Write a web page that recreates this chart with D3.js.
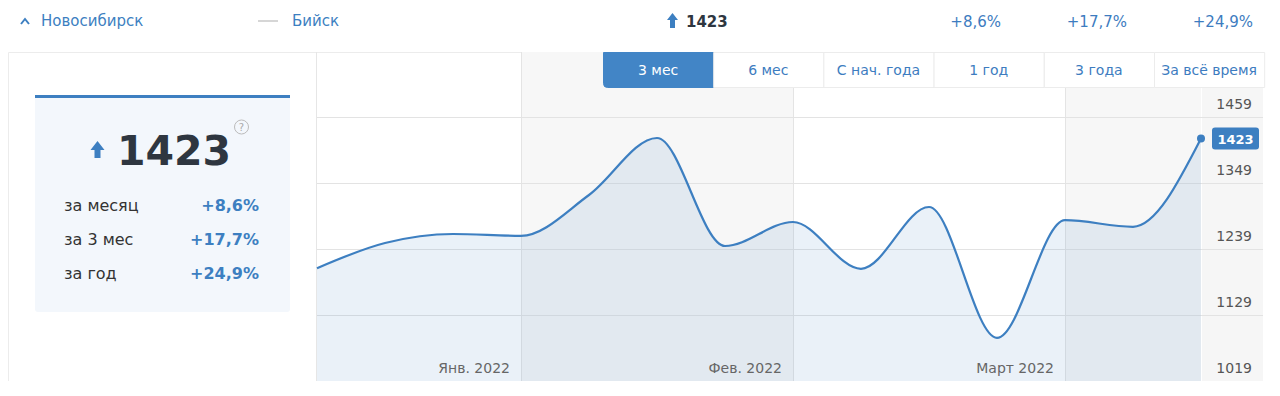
<!DOCTYPE html>
<html lang="ru">
<head>
<meta charset="utf-8">
<title>Новосибирск — Бийск</title>
<script src="https://cdn.jsdelivr.net/npm/d3@7.9.0/dist/d3.min.js"></script>
<style>
  html, body { margin: 0; padding: 0; background: #fff; }
  svg { display: block; font-family: 'DejaVu Sans', Verdana, sans-serif; }
</style>
</head>
<body>
<svg id="chart" width="1280" height="396"></svg>
<script>
// --- Data ---
const weekIndex = [0, 1, 2, 3, 4, 5, 6, 7, 8, 9, 10, 11, 12, 13];
const weekValues = [1207, 1249, 1264, 1261, 1329, 1424, 1244, 1284, 1206, 1309, 1091, 1287, 1276, 1423];
const yTicks = [1019, 1129, 1239, 1349, 1459];
const monthLabels = ['Янв. 2022', 'Фев. 2022', 'Март 2022'];
const monthStarts = [3, 7, 11]; // week index where the next month begins
const shadedBands = [[3, 7], [11, 13]];
const tabLabels = ['3 мес', '6 мес', 'С нач. года', '1 год', '3 года', 'За всё время'];
const changeLabels = ['за месяц', 'за 3 мес', 'за год'];
const changeValues = ['+8,6%', '+17,7%', '+24,9%'];
const currentValue = 1423;

const blue = '#3d7fc1';
const svg = d3.select('#chart');

// --- Header row ---
function renderHeader() {
  const g = svg.append('g').attr('font-size', 15);
  g.append('path').attr('d', 'M21,24 L25,19 L29,24')
    .attr('fill', 'none').attr('stroke', blue).attr('stroke-width', 2);
  g.append('text').attr('x', 41).attr('y', 26).attr('fill', blue).text('Новосибирск');
  g.append('line').attr('x1', 258).attr('x2', 278).attr('y1', 21).attr('y2', 21)
    .attr('stroke', '#c8c8c8').attr('stroke-width', 1.5);
  g.append('text').attr('x', 292).attr('y', 26).attr('fill', blue).text('Бийск');

  // small up arrow + value
  g.append('path').attr('d', 'M672.5,13 L678,20 L675,20 L675,28 L670,28 L670,20 L667,20 Z').attr('fill', blue);
  g.append('text').attr('x', 686).attr('y', 27).attr('font-weight', 'bold').attr('fill', '#2e3640')
    .text(currentValue);

  const right = [1001, 1127, 1253];
  changeValues.forEach((v, i) => {
    g.append('text').attr('x', right[i]).attr('y', 27).attr('text-anchor', 'end')
      .attr('fill', '#3d7cc0').text(v);
  });
}

// --- Left info card ---
function renderInfoCard() {
  // outer panel frame
  svg.append('path').attr('d', 'M8.5,381 L8.5,52.5 L1263.5,52.5')
    .attr('fill', 'none').attr('stroke', '#ececec');

  const card = svg.append('g');
  card.append('rect').attr('x', 35).attr('y', 95).attr('width', 255).attr('height', 217)
    .attr('rx', 3).attr('fill', '#f3f7fc');
  card.append('rect').attr('x', 35).attr('y', 95).attr('width', 255).attr('height', 3).attr('fill', blue);

  card.append('path').attr('d', 'M97.5,141 L104.5,150 L100.5,150 L100.5,158 L94.5,158 L94.5,150 L90.5,150 Z')
    .attr('fill', blue);
  card.append('text').attr('x', 174).attr('y', 165).attr('text-anchor', 'middle')
    .attr('font-size', 41).attr('font-weight', 'bold').attr('fill', '#2e3640').text(currentValue);

  card.append('circle').attr('cx', 241.5).attr('cy', 127).attr('r', 7)
    .attr('fill', 'none').attr('stroke', '#bbb');
  card.append('text').attr('x', 241.5).attr('y', 131).attr('text-anchor', 'middle')
    .attr('font-size', 10).attr('fill', '#aaa').text('?');

  changeLabels.forEach((label, i) => {
    const y = 211 + i * 34;
    card.append('text').attr('x', 64).attr('y', y).attr('font-size', 16).attr('fill', '#333').text(label);
    card.append('text').attr('x', 259).attr('y', y).attr('text-anchor', 'end')
      .attr('font-size', 16).attr('font-weight', 'bold').attr('fill', blue).text(changeValues[i]);
  });
}

// --- Main chart ---
function renderChart() {
  const top = 52, bottom = 381;
  const plotLeft = 317, plotRight = 1201, axisRight = 1263;

  const x = d3.scaleLinear().domain(d3.extent(weekIndex)).range([plotLeft, plotRight]);
  const y = d3.scaleLinear().domain([1019, 1459]).range([bottom, 117]);

  // separator between card and chart
  svg.append('line').attr('x1', plotLeft - 0.5).attr('x2', plotLeft - 0.5)
    .attr('y1', top).attr('y2', bottom).attr('stroke', '#e6e6e6');

  // shaded month bands
  svg.append('g').selectAll('rect').data(shadedBands).join('rect')
    .attr('x', d => x(d[0]))
    .attr('y', top)
    .attr('width', d => x(d[1]) - x(d[0]))
    .attr('height', bottom - top)
    .attr('fill', '#f7f7f7');
  // axis column
  svg.append('rect').attr('x', plotRight + 1).attr('y', 88).attr('width', axisRight - plotRight - 1)
    .attr('height', bottom - 88).attr('fill', '#f6f6f6');

  // month edges
  svg.append('g').selectAll('line').data(monthStarts).join('line')
    .attr('x1', d => Math.round(x(d)) + 0.5).attr('x2', d => Math.round(x(d)) + 0.5)
    .attr('y1', top).attr('y2', bottom).attr('stroke', '#e4e4e4');

  // gridlines
  const grid = svg.append('g').attr('transform', `translate(${plotLeft}, 0)`);
  grid.call(d3.axisLeft(y).tickValues(yTicks.slice(1)).tickFormat('').tickSize(-(axisRight - plotLeft)));
  grid.select('.domain').remove();
  grid.selectAll('line').attr('stroke', '#e3e3e3');

  // area + line
  const curve = d3.curveMonotoneX;
  const area = d3.area().x(d => x(d)).y0(bottom).y1(d => y(weekValues[d])).curve(curve);
  const line = d3.line().x(d => x(d)).y(d => y(weekValues[d])).curve(curve);

  svg.append('path').datum(weekIndex).attr('d', area)
    .attr('fill', blue).attr('fill-opacity', 0.11);
  svg.append('path').datum(weekIndex).attr('d', line)
    .attr('fill', 'none').attr('stroke', blue).attr('stroke-width', 2.2);

  const last = weekIndex[weekIndex.length - 1];
  svg.append('circle').attr('cx', x(last)).attr('cy', y(weekValues[last])).attr('r', 4).attr('fill', blue);

  // y axis labels on the right
  const yAxis = svg.append('g').attr('transform', `translate(${axisRight - 11}, 0)`);
  yAxis.call(d3.axisLeft(y).tickValues(yTicks).tickFormat(d => String(d)).tickSize(0).tickPadding(0));
  yAxis.select('.domain').remove();
  yAxis.selectAll('text')
    .attr('dy', null).attr('y', -9)
    .attr('font-family', 'DejaVu Sans, Verdana, sans-serif')
    .attr('font-size', 14).attr('fill', '#555');

  // current value badge
  const badge = svg.append('g').attr('transform', `translate(1212, ${y(weekValues[last]) - 11})`);
  badge.append('rect').attr('width', 47).attr('height', 22).attr('rx', 3).attr('fill', blue);
  badge.append('text').attr('x', 23.5).attr('y', 16).attr('text-anchor', 'middle')
    .attr('font-size', 13).attr('font-weight', 'bold').attr('fill', '#fff').text(weekValues[last]);

  // month labels
  svg.append('g').selectAll('text').data(monthLabels).join('text')
    .attr('x', (d, i) => x(monthStarts[i]) - 11)
    .attr('y', 373)
    .attr('text-anchor', 'end')
    .attr('font-size', 14).attr('fill', '#666')
    .text(d => d);

  // period tabs
  const tabW = 110.2, tabX0 = 603, tabTop = 52, tabH = 35;
  const tabs = svg.append('g').selectAll('g').data(tabLabels).join('g')
    .attr('transform', (d, i) => `translate(${tabX0 + i * tabW}, ${tabTop})`);
  tabs.append('path')
    .attr('d', (d, i) => i === 0
      ? `M0.5,0.5 H${tabW + 0.5} V${tabH + 0.5} H4.5 Q0.5,${tabH + 0.5} 0.5,${tabH - 3.5} Z`
      : `M0.5,0.5 H${tabW + 0.5} V${tabH + 0.5} H0.5 Z`)
    .attr('fill', (d, i) => i === 0 ? '#4285c6' : '#fff')
    .attr('stroke', (d, i) => i === 0 ? '#4285c6' : '#ececec');
  tabs.append('text')
    .attr('x', tabW / 2).attr('y', 23)
    .attr('text-anchor', 'middle')
    .attr('font-size', 14)
    .attr('fill', (d, i) => i === 0 ? '#fff' : '#3d7cc0')
    .text(d => d);
}

renderHeader();
renderInfoCard();
renderChart();
</script>
</body>
</html>
